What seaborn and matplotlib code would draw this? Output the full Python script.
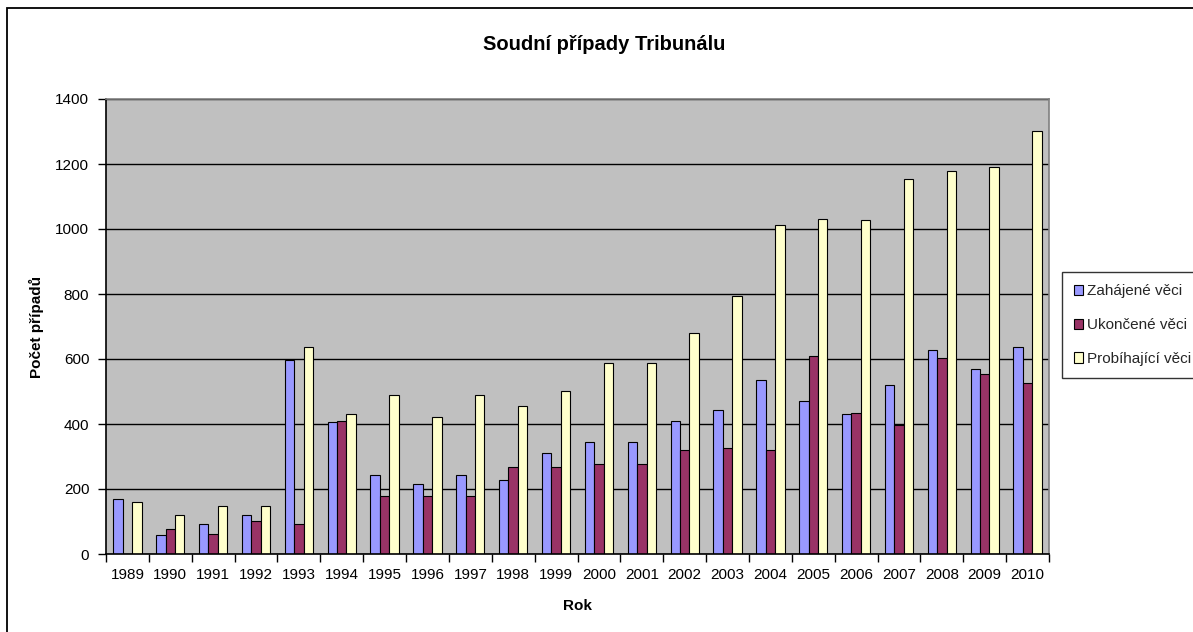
import matplotlib
matplotlib.use("Agg")
import matplotlib.pyplot as plt
import matplotlib.patches as mpatches
import numpy as np
import pandas as pd
import seaborn as sns

years = ["1989", "1990", "1991", "1992", "1993", "1994", "1995", "1996", "1997", "1998", "1999",
         "2000", "2001", "2002", "2003", "2004", "2005", "2006", "2007", "2008", "2009", "2010"]
zahajene = [169, 58, 93, 121, 596, 406, 244, 216, 244, 229, 312,
            344, 344, 410, 442, 536, 470, 431, 521, 628, 568, 636]
ukoncene = [0, 78, 63, 102, 93, 410, 177, 177, 177, 268, 268,
            276, 276, 320, 327, 320, 608, 435, 396, 604, 553, 525]
probihajici = [161, 121, 149, 149, 636, 431, 490, 422, 490, 454, 502,
               589, 589, 679, 794, 1011, 1032, 1028, 1154, 1178, 1190, 1302]
series_names = ["Zahájené věci", "Ukončené věci", "Probíhající věci"]
colors = ["#9999FF", "#993366", "#FFFFCC"]

df = pd.DataFrame({
    "Rok": years * 3,
    "Počet": zahajene + ukoncene + probihajici,
    "Řada": [series_names[0]] * len(years) + [series_names[1]] * len(years) + [series_names[2]] * len(years),
})

sns.set_theme(style="white")
plt.rcParams["font.family"] = ["Liberation Sans", "DejaVu Sans"]

W, H = 1193, 632
fig = plt.figure(figsize=(W / 100, H / 100), dpi=100)
left, right, top, bottom = 106, 1049, 99, 554
ax = fig.add_axes([left / W, 1 - bottom / H, (right - left) / W, (bottom - top) / H])

sns.barplot(data=df, x="Rok", y="Počet", hue="Řada", palette=colors, width=0.66,
            saturation=1, edgecolor="black", linewidth=0.8, ax=ax, legend=True)

ax.set_facecolor("#C0C0C0")
ax.set_ylim(0, 1400)
ax.set_xlim(-0.5, len(years) - 0.5)
ax.set_yticks(np.arange(0, 1401, 200))
ax.yaxis.grid(True, color="black", linewidth=1)
ax.set_axisbelow(True)
for s in ["left", "bottom"]:
    ax.spines[s].set_color("black")
    ax.spines[s].set_linewidth(1.2)
for s in ["top", "right"]:
    ax.spines[s].set_color("#808080")
    ax.spines[s].set_linewidth(1.2)

# category separators on the x axis, y ticks pointing outwards
ax.set_xticks(np.arange(-0.5, len(years), 1), minor=True)
ax.tick_params(axis="x", which="major", length=0, pad=10, labelsize=11, colors="black")
ax.tick_params(axis="x", which="minor", length=6, width=1, color="black", direction="out", bottom=True)
ax.tick_params(axis="y", which="major", length=6, width=1, color="black", direction="out",
               left=True, labelsize=11, pad=6, labelcolor="black")

ax.set_xlabel("Rok", fontsize=11, fontweight="bold", labelpad=12, color="black")
ax.set_ylabel("Počet případů", fontsize=11, fontweight="bold", labelpad=8, color="black")

fig.text(604 / W, 1 - 45 / H, "Soudní případy Tribunálu", ha="center", va="center",
         fontsize=14.5, fontweight="bold", color="black")

handles, labels = ax.get_legend_handles_labels()
ax.get_legend().remove()
leg = fig.legend(handles, labels, loc="upper left", bbox_to_anchor=(1062 / W, 1 - 272 / H),
                 frameon=True, fancybox=False, edgecolor="black", fontsize=11,
                 handlelength=0.6, handleheight=0.65, handletextpad=0.25,
                 labelspacing=1.3, borderpad=0.8, borderaxespad=0)
leg.get_frame().set_linewidth(1)

# chart border
fig.add_artist(mpatches.Rectangle((7 / W, -0.1), 2, 1.1 - 8 / H, transform=fig.transFigure,
                                  fill=False, edgecolor="black", linewidth=1.3))

fig.savefig("out.png", dpi=100)
